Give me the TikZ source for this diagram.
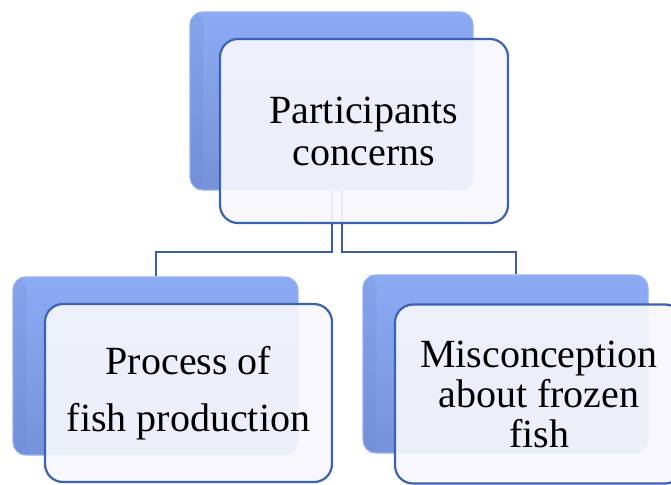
\documentclass[tikz,border=0pt]{standalone}
\usepackage{fontspec}
\setmainfont{Liberation Serif}
\begin{document}
\begin{tikzpicture}[x=1pt,y=-1pt,
  backbox/.style={rectangle, rounded corners=13pt, inner sep=0pt,
    top color=backtop, bottom color=backbot, draw=backedge, line width=1.2pt},
  frontbox/.style={rectangle, rounded corners=18pt, inner sep=0pt,
    draw=frontedge, line width=2.2pt, fill=frontfill, fill opacity=0.92,
    text opacity=1, align=center, font=\fontsize{40}{42}\selectfont},
  link/.style={draw=linkcol, line width=2pt}]
\definecolor{backtop}{RGB}{140,171,244}
\definecolor{backbot}{RGB}{118,146,218}
\definecolor{backedge}{RGB}{152,178,240}
\definecolor{backdark}{RGB}{104,130,204}
\definecolor{frontfill}{RGB}{246,246,252}
\definecolor{frontedge}{RGB}{60,98,178}
\definecolor{linkcol}{RGB}{58,94,168}
\useasboundingbox (0,0) rectangle (671,484);
\clip (0,0) rectangle (671,484);

% back layer of each card
\node[backbox, minimum width=283pt, minimum height=178pt] (topback) at (331.5,101) {};
\node[backbox, minimum width=285pt, minimum height=178pt] (leftback) at (155.5,366) {};
\node[backbox, minimum width=285pt, minimum height=178pt] (rightback) at (505.5,364) {};

% soft darker bevel along the left side of the back cards
\foreach \b in {topback,leftback,rightback}{
  \fill[backdark, opacity=0.2, rounded corners=12pt]
    ([xshift=1pt,yshift=-1pt]\b.north west) rectangle ([xshift=14pt,yshift=1pt]\b.south west);
}

% branch lines
\coordinate (bus) at (0,252);
\draw[link] (topback.south) -- (topback.south |- bus) -| (leftback.north);
\draw[link] ([xshift=10pt]topback.south) -- ([xshift=10pt]topback.south |- bus)
  -| ([xshift=10pt]rightback.north);

% front cards with the labels
\node[frontbox, minimum width=288pt, minimum height=184pt] (topfront) at (364,131)
  {Participants\\concerns};
\node[frontbox, minimum width=287pt, minimum height=178pt,
  font=\fontsize{40}{57}\selectfont] (leftfront) at (188.5,393)
  {Process of\\fish production};
\node[frontbox, minimum width=288pt, minimum height=179pt,
  font=\fontsize{40}{40}\selectfont] (rightfront) at (539,394)
  {Misconception\\about frozen\\fish};
\end{tikzpicture}
\end{document}
